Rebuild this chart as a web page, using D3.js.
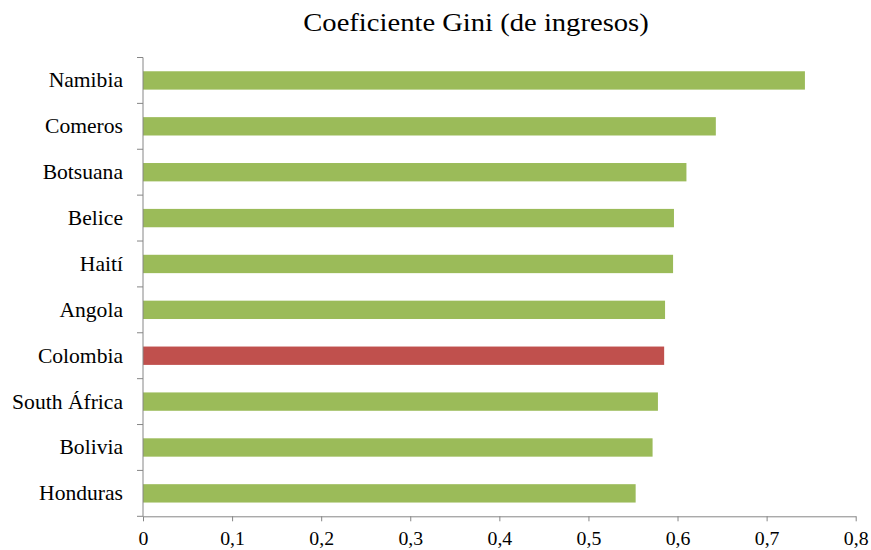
<!DOCTYPE html>
<html lang="es">
	<head>
		<meta charset="utf-8">
		<title>Coeficiente Gini (de ingresos)</title>
		<script src="https://cdn.jsdelivr.net/npm/d3@7"></script>
		<style>
			body { margin: 0; background: #fff; }
			svg text { font-family: 'Liberation Serif', 'DejaVu Serif', serif; fill: #000; }
		</style>
	</head>
	<body>
		<script>

			// data
			var countries = ["Namibia", "Comeros", "Botsuana", "Belice", "Haití",
			                 "Angola", "Colombia", "South África", "Bolivia", "Honduras"];
			var gini = [0.743, 0.643, 0.610, 0.596, 0.595, 0.586, 0.585, 0.578, 0.572, 0.553];
			var highlight = "Colombia";
			var xTicks = [0, 0.1, 0.2, 0.3, 0.4, 0.5, 0.6, 0.7, 0.8];

			var w = 871, h = 550;
			var margin = {top: 57.5, right: 15.3, bottom: 33.7, left: 143};
			var stretch = 1.08; // the original text is a bit wider than it is tall

			var svg = d3.select("body").append("svg")
				.attr("width", w)
				.attr("height", h);

			var xScale = d3.scaleLinear()
				.domain([0, 0.8])
				.range([margin.left, w - margin.right]);

			var yScale = d3.scaleBand()
				.domain(countries)
				.range([margin.top, h - margin.bottom])
				.paddingInner(0.6)
				.paddingOuter(0.3);

			// title
			svg.append("text")
				.attr("transform", "translate(476,31) scale(1.1,1)")
				.attr("text-anchor", "middle")
				.attr("font-size", "26px")
				.text("Coeficiente Gini (de ingresos)");

			// bars
			svg.selectAll("rect.bar")
				.data(gini)
				.enter()
				.append("rect")
				.attr("class", "bar")
				.attr("x", xScale(0))
				.attr("y", function(d, i) { return yScale(countries[i]); })
				.attr("width", function(d) { return xScale(d) - xScale(0); })
				.attr("height", yScale.bandwidth())
				.attr("fill", function(d, i) { return countries[i] === highlight ? "#C0504D" : "#9BBB59"; });

			// x axis
			var xAxis = d3.axisBottom(xScale)
				.tickValues(xTicks)
				.tickSize(5)
				.tickSizeOuter(0)
				.tickFormat(function(d) { return d === 0 ? "0" : d3.format(".1f")(d).replace(".", ","); });

			var gx = svg.append("g")
				.attr("transform", "translate(0," + (h - margin.bottom) + ")")
				.call(xAxis);
			gx.attr("font-family", null);
			gx.select(".domain").attr("stroke", "#868686");
			gx.selectAll(".tick line").attr("stroke", "#868686");
			gx.selectAll(".tick text")
				.style("font-size", "18px")
				.attr("fill", "#000")
				.attr("dy", null)
				.attr("y", 29)
				.attr("transform", "scale(1.1,1)");

			// y axis: line + ticks between categories
			var step = yScale.step();
			svg.append("line")
				.attr("x1", xScale(0)).attr("x2", xScale(0))
				.attr("y1", margin.top).attr("y2", h - margin.bottom)
				.attr("stroke", "#868686");

			svg.selectAll("line.ytick")
				.data(d3.range(countries.length + 1))
				.enter()
				.append("line")
				.attr("class", "ytick")
				.attr("x1", xScale(0) - 6).attr("x2", xScale(0))
				.attr("y1", function(i) { return margin.top + i * step; })
				.attr("y2", function(i) { return margin.top + i * step; })
				.attr("stroke", "#868686");

			// category labels
			svg.selectAll("text.cat")
				.data(countries)
				.enter()
				.append("text")
				.attr("class", "cat")
				.attr("transform", function(d) {
					return "translate(" + (xScale(0) - 20) + "," + (yScale(d) + yScale.bandwidth() / 2) + ") scale(" + stretch + ",1)";
				})
				.attr("dy", "0.35em")
				.attr("text-anchor", "end")
				.attr("font-size", "20px")
				.text(function(d) { return d; });

		</script>
	</body>
</html>
